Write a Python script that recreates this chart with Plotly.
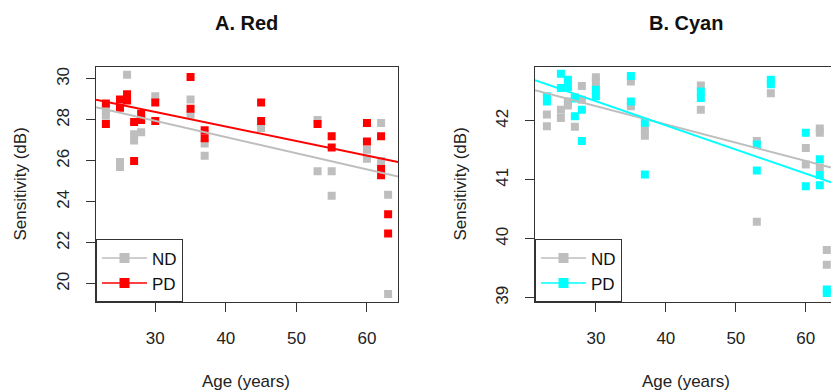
import plotly.graph_objects as go

W, H = 831, 392

# ---------------- data ----------------
red_nd_age = [23, 23, 25, 25, 26, 27, 27, 28, 30, 35, 35, 37, 37, 45, 53, 53, 55, 55, 60, 60, 62, 62, 63, 63]
red_nd_val = [28.5, 28.2, 25.95, 25.7, 30.2, 27.3, 27.0, 27.4, 29.15, 29.0, 28.25, 26.85, 26.25, 27.6,
              28.0, 25.5, 25.5, 24.3, 26.55, 26.1, 27.85, 26.0, 24.35, 19.5]
red_pd_age = [23, 23, 25, 25, 26, 26, 27, 27, 28, 28, 30, 30, 35, 35, 37, 37, 45, 45, 53, 55, 55, 60, 60,
              62, 62, 62, 63, 63]
red_pd_val = [28.8, 27.8, 29.0, 28.6, 29.25, 28.95, 27.9, 26.0, 28.3, 28.0, 28.85, 27.95, 30.1, 28.55,
              27.5, 27.1, 28.85, 27.95, 27.8, 27.2, 26.65, 27.85, 26.95, 27.2, 25.6, 25.3, 23.4, 22.45]

cyan_nd_age = [23, 23, 25, 25, 26, 26, 27, 27, 28, 28, 30, 30, 35, 35, 37, 37, 45, 45, 53, 53, 55,
               60, 60, 62, 62, 62, 63, 63]
cyan_nd_val = [42.11, 41.91, 42.19, 42.05, 42.33, 42.26, 42.40, 41.90, 42.59, 42.36, 42.74, 42.65,
               42.67, 42.25, 41.85, 41.75, 42.60, 42.19, 41.66, 40.29, 42.47,
               41.54, 41.26, 41.87, 41.80, 41.21, 39.81, 39.56]
cyan_pd_age = [23, 23, 25, 25, 26, 26, 27, 27, 28, 28, 30, 30, 35, 35, 37, 37, 45, 45, 53, 53, 55, 55,
               60, 60, 62, 62, 62, 63, 63]
cyan_pd_val = [42.42, 42.33, 42.80, 42.56, 42.70, 42.57, 42.38, 42.08, 42.19, 41.66, 42.53, 42.42,
               42.76, 42.33, 41.97, 41.09, 42.50, 42.39, 41.60, 41.16, 42.70, 42.62,
               41.80, 40.89, 41.35, 41.08, 40.91, 39.14, 39.08]

# regression lines (intercept, slope)
red_nd_fit = (30.32, -0.079)
red_pd_fit = (30.51, -0.0708)
cyan_nd_fit = (43.18, -0.031)
cyan_pd_fit = (43.56, -0.0409)

x_ticks = [30, 40, 50, 60]
red_y_ticks = [20, 22, 24, 26, 28, 30]
cyan_y_ticks = [39, 40, 41, 42]

titles = ["A. Red", "B. Cyan"]
x_label = "Age (years)"
y_label = "Sensitivity (dB)"
series_names = ["ND", "PD"]

# ---------------- styling ----------------
GRAY = "#BEBEBE"
RED = "#FF0000"
CYAN = "#00FFFF"
AXC = "#333333"
FONT = "Liberation Sans, Arial, sans-serif"

red_xr = [21.6, 64.4]
red_yr = [19.09, 30.6]
cyan_xr = [21.3, 63.6]
cyan_yr = [38.92, 42.92]

def px_x(p):
    return p / W

def px_y(p):
    return 1 - p / H

ydom = [px_y(304), px_y(67)]
xdom1 = [px_x(96), px_x(398)]
xdom2 = [px_x(535), 1.0]

fig = go.Figure()

def pts(ax, ay, xs, ys, color):
    fig.add_trace(go.Scatter(x=xs, y=ys, mode="markers", xaxis=ax, yaxis=ay, showlegend=False,
                             marker=dict(symbol="square", size=8, color=color, line=dict(width=0))))

def fitline(ax, ay, fit, xr, color):
    xs = list(xr)
    ys = [fit[0] + fit[1] * v for v in xs]
    fig.add_trace(go.Scatter(x=xs, y=ys, mode="lines", xaxis=ax, yaxis=ay, showlegend=False,
                             line=dict(color=color, width=2), hoverinfo="skip"))

def legend_entry(ax, ay, name, color, leg):
    fig.add_trace(go.Scatter(x=[None], y=[None], mode="lines+markers", xaxis=ax, yaxis=ay, name=name,
                             legend=leg, line=dict(color=color, width=1.5),
                             marker=dict(symbol="square", size=10, color=color, line=dict(width=0))))

pts("x", "y", red_nd_age, red_nd_val, GRAY)
pts("x", "y", red_pd_age, red_pd_val, RED)
fitline("x", "y", red_nd_fit, red_xr, GRAY)
fitline("x", "y", red_pd_fit, red_xr, RED)
legend_entry("x", "y", series_names[0], GRAY, "legend")
legend_entry("x", "y", series_names[1], RED, "legend")

pts("x2", "y2", cyan_nd_age, cyan_nd_val, GRAY)
pts("x2", "y2", cyan_pd_age, cyan_pd_val, CYAN)
fitline("x2", "y2", cyan_nd_fit, cyan_xr, GRAY)
fitline("x2", "y2", cyan_pd_fit, cyan_xr, CYAN)
legend_entry("x2", "y2", series_names[0], GRAY, "legend2")
legend_entry("x2", "y2", series_names[1], CYAN, "legend2")

common_x = dict(showgrid=False, zeroline=False, showline=True, linecolor=AXC, linewidth=1,
                ticks="outside", ticklen=9, tickcolor=AXC, tickvals=x_ticks, ticklabelstandoff=11,
                tickfont=dict(family=FONT, size=17, color="#222"))
common_y = dict(showgrid=False, zeroline=False, showline=True, linecolor=AXC, linewidth=1,
                ticks="outside", ticklen=9, tickcolor=AXC, tickangle=-90, ticklabelstandoff=10,
                tickfont=dict(family=FONT, size=17, color="#222"))

leg_common = dict(bordercolor=AXC, borderwidth=1, bgcolor="white", xanchor="left", yanchor="bottom",
                  font=dict(family=FONT, size=17, color="#111"), tracegroupgap=0, itemwidth=45,
                  traceorder="normal")

annotations = []
for cx, t in [(246, titles[0]), (686, titles[1])]:
    annotations.append(dict(text="<b>%s</b>" % t, x=px_x(cx), y=px_y(23), xref="paper", yref="paper",
                            showarrow=False, xanchor="center", yanchor="middle",
                            font=dict(family=FONT, size=20, color="#111")))
for cx in [246, 686]:
    annotations.append(dict(text=x_label, x=px_x(cx), y=px_y(383), xref="paper", yref="paper",
                            showarrow=False, xanchor="center", yanchor="middle",
                            font=dict(family=FONT, size=17, color="#222")))
for cx in [21, 461]:
    annotations.append(dict(text=y_label, x=px_x(cx), y=px_y(185.5), xref="paper", yref="paper",
                            showarrow=False, xanchor="center", yanchor="middle", textangle=-90,
                            font=dict(family=FONT, size=17, color="#222")))

fig.update_layout(
    width=W, height=H, margin=dict(l=0, r=0, t=0, b=0),
    paper_bgcolor="white", plot_bgcolor="white",
    xaxis=dict(domain=xdom1, range=red_xr, anchor="y", mirror=True, **common_x),
    yaxis=dict(domain=ydom, range=red_yr, anchor="x", mirror=True, tickvals=red_y_ticks, **common_y),
    xaxis2=dict(domain=xdom2, range=cyan_xr, anchor="y2", mirror=True, **common_x),
    yaxis2=dict(domain=ydom, range=cyan_yr, anchor="x2", mirror=False, tickvals=cyan_y_ticks, **common_y),
    legend=dict(x=xdom1[0], y=ydom[0], **leg_common),
    legend2=dict(x=xdom2[0], y=ydom[0], **leg_common),
    annotations=annotations,
    showlegend=True,
)

fig.write_html("out.html")
